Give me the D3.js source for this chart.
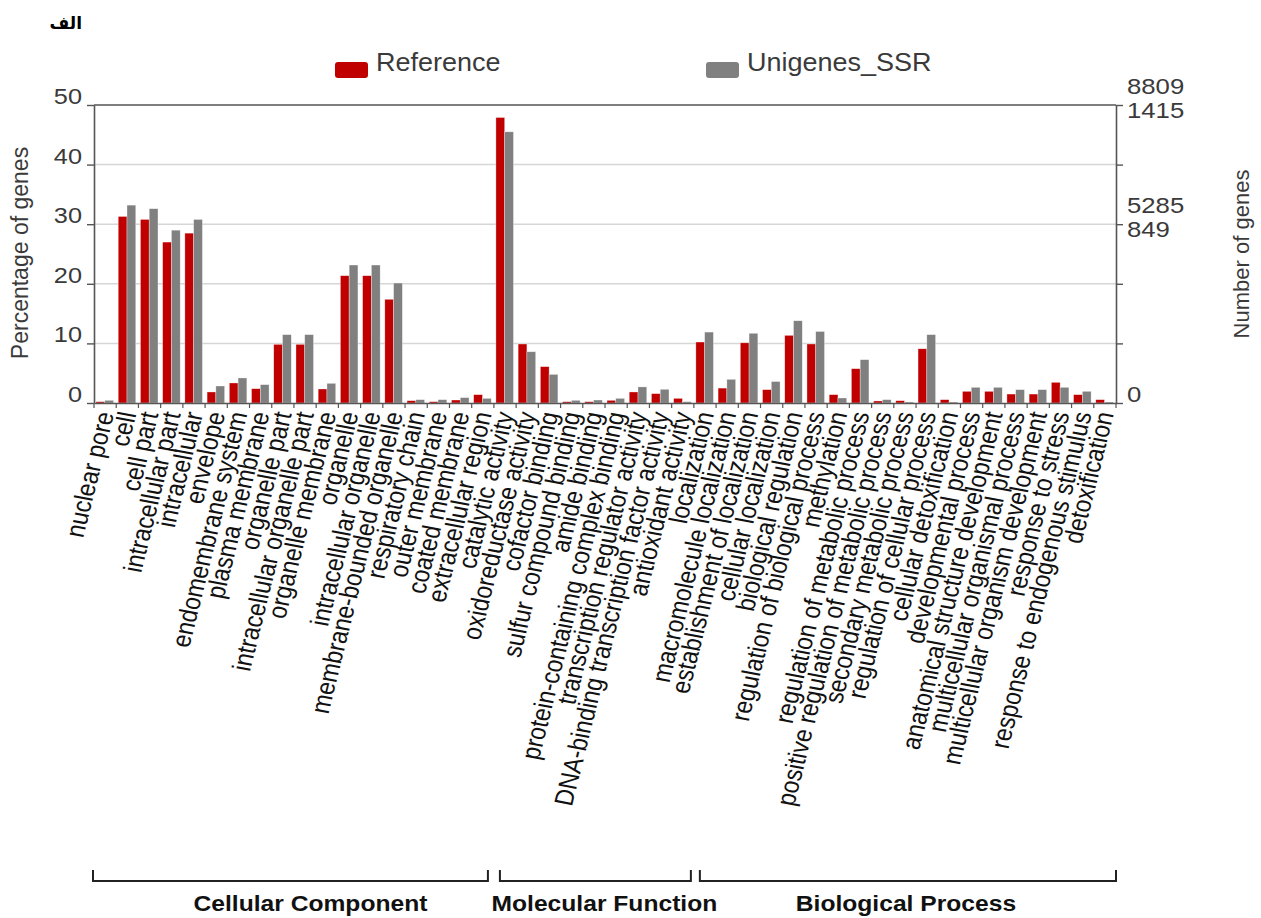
<!DOCTYPE html>
<html>
<head>
<meta charset="utf-8">
<script src="https://cdn.jsdelivr.net/npm/d3@7"></script>
<style>
  body { margin: 0; background: #fff; }
  svg { display: block; }
  text { font-family: "Liberation Sans", Arial, Helvetica, sans-serif; }
</style>
</head>
<body>
<svg id="chart" width="1261" height="918"></svg>
<script>
// GO term categories, in plotting order
const categories = [
  "nuclear pore", "cell", "cell part", "intracellular part", "intracellular",
  "envelope", "endomembrane system", "plasma membrane", "organelle part",
  "intracellular organelle part", "organelle membrane", "organelle",
  "intracellular organelle", "membrane-bounded organelle", "respiratory chain",
  "outer membrane", "coated membrane", "extracellular region",
  "catalytic activity", "oxidoreductase activity", "cofactor binding",
  "sulfur compound binding", "amide binding", "protein-containing complex binding",
  "transcription regulator activity", "DNA-binding transcription factor activity",
  "antioxidant activity",
  "localization", "macromolecule localization", "establishment of localization",
  "cellular localization", "biological regulation", "regulation of biological process",
  "methylation", "regulation of metabolic process", "positive regulation of metabolic process",
  "secondary metabolic process", "regulation of cellular process", "cellular detoxification",
  "developmental process", "anatomical structure development", "multicellular organismal process",
  "multicellular organism development", "response to stress", "response to endogenous stimulus",
  "detoxification"
];

// Percentage of genes per category
const referenceValues = [
  0.22, 31.3, 30.8, 27.0, 28.5,
  1.85, 3.36, 2.4, 9.84,
  9.84, 2.35, 21.36,
  21.36, 17.4, 0.39,
  0.22, 0.5, 1.4,
  47.9, 9.9, 6.1,
  0.22, 0.22, 0.45,
  1.85, 1.57,
  0.78,
  10.23, 2.5, 10.1,
  2.24, 11.35, 9.9,
  1.4, 5.76, 0.34,
  0.39, 9.1, 0.56,
  1.96, 1.96, 1.5,
  1.5, 3.47, 1.4,
  0.56
];
const unigeneValues = [
  0.45, 33.2, 32.6, 29.0, 30.8,
  2.85, 4.2, 3.08, 11.47,
  11.47, 3.3, 23.15,
  23.15, 20.13, 0.56,
  0.56, 0.9, 0.78,
  45.5, 8.6, 4.8,
  0.45, 0.5, 0.78,
  2.7, 2.3,
  0.22,
  11.9, 3.97, 11.7,
  3.6, 13.8, 12.0,
  0.84, 7.27, 0.56,
  0.17, 11.47, 0.17,
  2.63, 2.63, 2.24,
  2.24, 2.63, 1.96,
  0.17
];

// Ontology groups and how many categories each spans
const groupNames = ["Cellular Component", "Molecular Function", "Biological Process"];
const groupSizes = [18, 9, 19];

// Axis ticks
const leftTicks = [0, 10, 20, 30, 40, 50];
const rightTickLabels = [
  { pct: 50, lines: ["8809", "1415"] },
  { pct: 30, lines: ["5285", "849"] },
  { pct: 0,  lines: ["0"] }
];

const seriesNames = ["Reference", "Unigenes_SSR"];
const seriesColors = ["#c00000", "#808080"];

const svg = d3.select("#chart");
const plot = { left: 94, right: 1116, top: 105, bottom: 403 };
const textColor = "#3a3a3a";

const x = d3.scaleBand().domain(categories).range([plot.left, plot.right]).padding(0);
const y = d3.scaleLinear().domain([0, 50]).range([plot.bottom, plot.top]);
const bw = x.bandwidth();

// Horizontally widened text helper
function wideText(parent, tx, ty, str, size, sx, anchor) {
  return parent.append("text")
    .attr("transform", `translate(${tx},${ty}) scale(${sx},1)`)
    .attr("text-anchor", anchor || "start")
    .style("font-size", size + "px")
    .attr("fill", textColor)
    .text(str);
}

// Corner label
svg.append("text")
  .attr("x", 82).attr("y", 29)
  .attr("text-anchor", "end")
  .style("font-family", "'DejaVu Sans', 'Noto Sans', sans-serif")
  .style("font-weight", "bold").style("font-size", "17px")
  .attr("fill", "#000")
  .text("الف");

// Gridlines
svg.append("g").selectAll("line")
  .data(leftTicks.filter(t => t > 0 && t < 50))
  .join("line")
  .attr("x1", plot.left).attr("x2", plot.right)
  .attr("y1", d => y(d)).attr("y2", d => y(d))
  .attr("stroke", "#d6d6d6").attr("stroke-width", 1.5);

// Bars
const barGroup = svg.append("g");
const seriesData = [referenceValues, unigeneValues];
seriesData.forEach((vals, s) => {
  barGroup.append("g").selectAll("rect")
    .data(categories.map((c, i) => ({ c, v: vals[i] })))
    .join("rect")
    .attr("x", d => x(d.c) + bw * 0.09 + s * bw * 0.395)
    .attr("width", bw * 0.395)
    .attr("y", d => y(d.v))
    .attr("height", d => y(0) - y(d.v))
    .attr("fill", seriesColors[s])
    .attr("stroke", "rgba(255,255,255,0.55)")
    .attr("stroke-width", 0.6);
});

// Frame: top border
svg.append("line")
  .attr("x1", plot.left).attr("x2", plot.right)
  .attr("y1", plot.top).attr("y2", plot.top)
  .attr("stroke", "#555").attr("stroke-width", 1.6);

// Left axis
const leftAxis = svg.append("g").attr("transform", `translate(${plot.left},0)`)
  .call(d3.axisLeft(y).tickValues(leftTicks).tickSize(7).tickSizeOuter(0).tickFormat(""));
leftAxis.select(".domain").attr("stroke", "#555").attr("stroke-width", 1.6);
leftAxis.selectAll(".tick line").attr("stroke", "#555").attr("stroke-width", 1.4);
const ll = svg.append("g");
leftTicks.forEach(t => wideText(ll, 82, y(t) - 1, d3.format("d")(t), 22, 1.15, "end"));

// Right axis (ticks only; stacked count labels placed separately)
const rightAxis = svg.append("g").attr("transform", `translate(${plot.right},0)`)
  .call(d3.axisRight(y).tickValues(leftTicks).tickSize(7).tickSizeOuter(0).tickFormat(""));
rightAxis.select(".domain").attr("stroke", "#555").attr("stroke-width", 1.6);
rightAxis.selectAll(".tick line").attr("stroke", "#555").attr("stroke-width", 1.4);

const rl = svg.append("g");
rightTickLabels.forEach(t => {
  const ty = y(t.pct);
  if (t.lines.length === 2) {
    wideText(rl, plot.right + 11, ty - 11, t.lines[0], 22, 1.17);
    wideText(rl, plot.right + 11, ty + 13, t.lines[1], 22, 1.17);
  } else {
    wideText(rl, plot.right + 11, ty - 1, t.lines[0], 22, 1.17);
  }
});

// Bottom axis with rotated category labels
const bottomAxis = svg.append("g").attr("transform", `translate(0,${plot.bottom})`)
  .call(d3.axisBottom(x).tickSize(0).tickSizeOuter(0));
bottomAxis.select(".domain").attr("stroke", "#555").attr("stroke-width", 1.6);
bottomAxis.selectAll(".tick text")
  .attr("text-anchor", "end")
  .attr("transform", "translate(0,9) scale(1.15,1) rotate(-77.8)")
  .attr("x", 0).attr("y", 0).attr("dy", "0.35em")
  .style("font-size", "23px").attr("fill", "#111");
// Small ticks at band boundaries
svg.append("g").selectAll("line")
  .data(d3.range(categories.length + 1))
  .join("line")
  .attr("x1", i => plot.left + i * bw).attr("x2", i => plot.left + i * bw)
  .attr("y1", plot.bottom).attr("y2", plot.bottom + 5)
  .attr("stroke", "#555").attr("stroke-width", 1.2);

// Axis titles
svg.append("text")
  .attr("transform", "translate(28,253) rotate(-90)")
  .attr("text-anchor", "middle")
  .style("font-size", "23px").attr("fill", textColor)
  .text("Percentage of genes");
svg.append("text")
  .attr("transform", "translate(1249,254) rotate(-90)")
  .attr("text-anchor", "middle")
  .style("font-size", "22px").attr("fill", textColor)
  .text("Number of genes");

// Legend
const legendPos = [335, 706];
seriesNames.forEach((name, i) => {
  svg.append("rect")
    .attr("x", legendPos[i]).attr("y", 62).attr("width", 33).attr("height", 16)
    .attr("rx", 3).attr("fill", seriesColors[i]);
  wideText(svg, legendPos[i] + 41, 71, name, 25, 1.08);
});

// Group brackets
const bracketGaps = [[-1, -6], [6, -3], [6, 0]];
const labelShift = [20, 9, -2];
let start = 0;
groupNames.forEach((g, gi) => {
  const first = categories[start];
  const last = categories[start + groupSizes[gi] - 1];
  const x0 = x(first) + bracketGaps[gi][0];
  const x1 = x(last) + bw + bracketGaps[gi][1];
  svg.append("path")
    .attr("d", `M${x0},870 V881 H${x1} V870`)
    .attr("fill", "none").attr("stroke", "#222").attr("stroke-width", 2);
  wideText(svg, (x0 + x1) / 2 + labelShift[gi], 911, g, 22, 1.12, "middle")
    .style("font-weight", "bold").attr("fill", "#111");
  start += groupSizes[gi];
});
</script>
</body>
</html>
